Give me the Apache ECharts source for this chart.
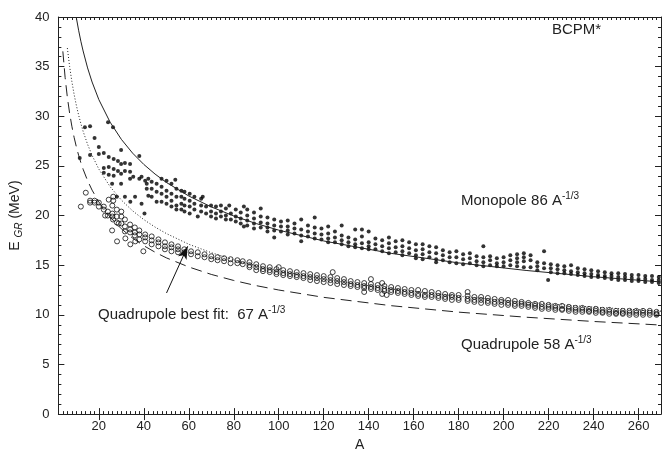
<!DOCTYPE html>
<html lang="en">
<head>
    <meta charset="UTF-8">
    <title>E_GR vs A</title>
    <script src="https://cdn.jsdelivr.net/npm/echarts/dist/echarts.min.js"></script>
    <style>
        html, body { margin: 0; padding: 0; background: #fff; }
        #main { width: 671px; height: 457px; }
    </style>
</head>
<body>
    <div id="main"></div>

    <script>
        // tick labels
        var xMajorTicks = [20, 40, 60, 80, 100, 120, 140, 160, 180, 200, 220, 240, 260];

        // monopole energies (filled dots), [A, E]
        var monopole = [
            [11.5, 25.8], [13.8, 28.9], [16.1, 29.0], [16.1, 26.1], [18.1, 27.8], [20, 26.9], [20, 26.2], [22.2, 26.3], [22.2, 24.8], [22.2, 24.3],
            [24.1, 29.4], [24.4, 25.9], [24.4, 24.9], [24.4, 24.1], [25.9, 23.2], [26.3, 28.9], [26.6, 25.7], [26.6, 24.7], [26.6, 24.0], [28, 21.9],
            [28.5, 25.5], [28.5, 24.5], [29.9, 26.6], [29.9, 25.2], [29.9, 24.2], [29.9, 23.2], [31.6, 25.3], [31.6, 24.5], [31.6, 21.9], [33.9, 25.2],
            [33.9, 24.4], [33.9, 23.7], [34, 21.4], [35.3, 23.9], [36.1, 21.9], [38, 26.0], [38, 23.7], [39, 23.9], [39, 21.2], [40.3, 20.2],
            [40.6, 23.5], [41.3, 23.2], [41.3, 22.7], [42, 23.7], [42, 22.0], [43.5, 23.4], [43.5, 22.7], [43.5, 21.9], [45.7, 23.2], [45.7, 22.4],
            [45.7, 21.4], [47.9, 23.7], [47.9, 22.9], [47.9, 22.2], [47.9, 21.4], [50.1, 23.5], [50.1, 22.5], [50.1, 21.9], [50.1, 21.2], [52.3, 23.2],
            [52.3, 22.2], [52.3, 21.5], [52.3, 20.9], [54, 23.6], [54.5, 22.7], [54.5, 21.9], [54.5, 21.0], [54.5, 20.6], [56.7, 22.5], [56.7, 21.9],
            [56.7, 21.2], [56.7, 20.6], [58.1, 22.4], [58.1, 21.7], [58.1, 21.0], [58.1, 20.4], [60.4, 22.2], [60.4, 21.5], [60.4, 20.9], [60.4, 20.2],
            [62.5, 21.9], [62.5, 21.2], [62.5, 20.6], [64, 19.9], [65.5, 21.7], [65.5, 21.0], [65.5, 20.4], [66.2, 21.9], [67.7, 20.9], [67.7, 20.2],
            [69.9, 21.0], [69.9, 20.4], [69.9, 19.9], [72.1, 20.9], [72.1, 20.2], [72.1, 19.7], [74.3, 21.0], [74.3, 20.4], [74.3, 19.9], [76.5, 20.7],
            [76.5, 20.0], [76.5, 19.6], [78, 21.0], [78.7, 20.2], [78.7, 19.6], [80.9, 20.6], [80.9, 19.9], [80.9, 19.4], [83.1, 20.3], [83.1, 19.7],
            [83.1, 19.2], [84.5, 20.9], [84.5, 18.9],
            [86, 20.6], [86, 20.0], [86, 19.5], [86, 19.0], [89, 20.3], [89, 19.7], [89, 19.2], [89, 18.7],
            [92, 20.7], [92, 19.9], [92, 19.3], [92, 18.8], [95, 19.8], [95, 19.2], [95, 18.8], [95, 18.4],
            [98, 19.6], [98, 19.0], [98, 18.5], [98, 17.8], [101, 19.4], [101, 18.9], [101, 18.4],
            [104, 19.5], [104, 18.9], [104, 18.5], [104, 18.1], [107, 19.2], [107, 18.7], [107, 18.2],
            [110, 19.6], [110, 18.6], [110, 18.0], [110, 17.4], [113, 19.0], [113, 18.4], [113, 17.9],
            [116, 19.8], [116, 18.8], [116, 18.2], [116, 17.7], [119, 18.7], [119, 18.1], [119, 17.6],
            [122, 18.9], [122, 18.2], [122, 17.7], [122, 17.3], [125, 18.4], [125, 17.8], [125, 17.3],
            [128, 19.0], [128, 18.0], [128, 17.5], [128, 17.1], [131, 17.8], [131, 17.3], [131, 16.9],
            [134, 18.6], [134, 17.6], [134, 17.1], [134, 16.8], [137, 18.6], [137, 17.9], [137, 17.2], [137, 16.7],
            [140, 18.4], [140, 17.3], [140, 16.9], [140, 16.6], [143, 17.7], [143, 17.1], [143, 16.6],
            [146, 17.5], [146, 16.9], [146, 16.4], [149, 17.8], [149, 17.2], [149, 16.7], [149, 16.2],
            [152, 17.4], [152, 16.8], [152, 16.3], [155, 17.5], [155, 16.9], [155, 16.4], [155, 16.0],
            [158, 17.3], [158, 16.7], [158, 16.2], [161, 17.1], [161, 16.5], [161, 16.0], [161, 15.7],
            [164, 17.1], [164, 16.6], [164, 16.1], [164, 15.6], [167, 16.9], [167, 16.3], [167, 15.8],
            [170, 16.8], [170, 16.2], [170, 15.6], [170, 15.3], [173, 16.5], [173, 16.0], [173, 15.5],
            [176, 16.3], [176, 15.8], [176, 15.3], [179, 16.4], [179, 15.8], [179, 15.2],
            [182, 16.1], [182, 15.6], [182, 15.1], [185, 16.2], [185, 15.7], [185, 15.2],
            [188, 15.9], [188, 15.4], [188, 15.0], [191, 16.9], [191, 15.8], [191, 15.3], [191, 14.9],
            [194, 15.9], [194, 15.5], [194, 15.0], [197, 15.7], [197, 15.2], [197, 14.9],
            [200, 15.8], [200, 15.3], [200, 14.9], [203, 16.0], [203, 15.5], [203, 15.0],
            [206, 16.1], [206, 15.7], [206, 15.3], [206, 14.9], [209, 16.2], [209, 15.8], [209, 15.4], [209, 14.8],
            [212, 16.0], [212, 15.5], [212, 14.8], [215, 15.3], [215, 14.9], [215, 14.5],
            [218, 16.4], [218, 15.2], [218, 14.7], [219.8, 13.5], [221, 15.1], [221, 14.7], [221, 14.3],
            [224, 15.0], [224, 14.6], [224, 14.2], [227, 14.9], [227, 14.5], [227, 14.2],
            [230, 15.0], [230, 14.4], [230, 14.1], [233, 14.7], [233, 14.3], [233, 14.0],
            [236, 14.6], [236, 14.2], [236, 13.9], [239, 14.5], [239, 14.1], [239, 13.8],
            [242, 14.4], [242, 14.0], [242, 13.8], [245, 14.3], [245, 13.9], [245, 13.7],
            [248, 14.2], [248, 13.9], [248, 13.6], [251, 14.2], [251, 13.8], [251, 13.5],
            [254, 14.1], [254, 13.8], [254, 13.5], [257, 14.0], [257, 13.7], [257, 13.4],
            [260, 14.0], [260, 13.6], [260, 13.4], [263, 13.9], [263, 13.6], [263, 13.3],
            [266, 13.9], [266, 13.5], [266, 13.3], [269, 13.8], [269, 13.5], [269, 13.2]
        ];

        // quadrupole energies (open circles), [A, E]
        var quadrupole = [
            [12, 20.9], [14.2, 22.3], [16.1, 21.5], [16.1, 21.3], [18.1, 21.5], [18.1, 21.3], [20, 21.3], [20, 20.9], [22.2, 20.9], [22.2, 20.6],
            [22.8, 20.0], [24, 20.4], [24, 20.0], [24.4, 21.6], [26, 21.0], [26, 20.2], [26, 19.9], [26.3, 19.6], [26.4, 21.9], [26.4, 21.5],
            [25.9, 18.5], [28, 20.6], [28, 19.9], [28, 19.3], [28.1, 17.4], [28.8, 19.2], [30, 20.4], [30, 19.9], [30, 19.2], [31.6, 19.6],
            [31.6, 18.9], [31.6, 18.4], [31.8, 17.7], [33.9, 19.1], [33.9, 18.6], [33.9, 18.3], [34, 17.1], [36, 18.8], [36, 18.3], [36, 18.0],
            [36.2, 17.4], [38, 18.5], [38, 18.1], [38, 17.6], [39.8, 16.4], [40.6, 18.1], [40.6, 17.8], [40.6, 17.4], [43.5, 17.9], [43.5, 17.5],
            [43.5, 17.1], [46.5, 17.6], [46.5, 17.3], [46.5, 16.9], [49.4, 17.3], [49.4, 16.9], [49.4, 16.6], [52.3, 17.1], [52.3, 16.8], [52.3, 16.4],
            [55.2, 16.9], [55.2, 16.6], [55.2, 16.3], [58, 16.6], [58, 16.3], [61, 16.4], [61, 16.1], [64, 16.3], [64, 15.9], [67, 16.1],
            [67, 15.8], [70, 15.9], [70, 15.6], [72.8, 15.8], [72.8, 15.5], [75.7, 15.7], [75.7, 15.4], [78.6, 15.6], [78.6, 15.2], [81.6, 15.5],
            [81.6, 15.2], [84, 15.4], [84, 15.1],
            [87, 15.3], [87, 15.0], [87, 14.8], [90, 15.1], [90, 14.8], [90, 14.5], [93, 14.9], [93, 14.6], [93, 14.4],
            [96, 14.8], [96, 14.5], [96, 14.3], [99, 14.6], [99, 14.3], [99, 14.1], [100, 14.8],
            [102, 14.5], [102, 14.2], [102, 14.0], [105, 14.4], [105, 14.1], [105, 13.9], [108, 14.3], [108, 14.0], [108, 13.8],
            [111, 14.2], [111, 13.9], [111, 13.7], [114, 14.1], [114, 13.8], [114, 13.5], [117, 14.0], [117, 13.7], [117, 13.4],
            [120, 13.9], [120, 13.6], [120, 13.3], [124, 14.3], [123, 13.8], [123, 13.5], [123, 13.2],
            [126, 13.7], [126, 13.4], [126, 13.1], [129, 13.6], [129, 13.3], [129, 13.0], [132, 13.4], [132, 13.1], [132, 12.9],
            [135, 13.3], [135, 13.0], [135, 12.8], [138, 13.2], [138, 12.9], [138, 12.7], [138, 12.3],
            [141, 13.6], [141, 13.1], [141, 12.8], [141, 12.6], [144, 13.0], [144, 12.7], [144, 12.5], [146, 13.2], [146, 12.1],
            [147, 12.9], [147, 12.6], [147, 12.4], [148, 12.0], [150, 12.8], [150, 12.5], [150, 12.3],
            [153, 12.7], [153, 12.4], [153, 12.2], [156, 12.6], [156, 12.3], [156, 12.1], [159, 12.5], [159, 12.2], [159, 12.0],
            [162, 12.5], [162, 12.1], [162, 11.9], [165, 12.4], [165, 12.0], [165, 11.8], [168, 12.3], [168, 12.0], [168, 11.8],
            [171, 12.2], [171, 11.9], [171, 11.7], [174, 12.1], [174, 11.8], [174, 11.6], [177, 12.0], [177, 11.8], [177, 11.5],
            [180, 12.0], [180, 11.7], [180, 11.5], [184, 12.3], [184, 11.9], [184, 11.6], [184, 11.4],
            [187, 11.8], [187, 11.5], [187, 11.3], [190, 11.8], [190, 11.5], [190, 11.2], [193, 11.7], [193, 11.4], [193, 11.2],
            [196, 11.6], [196, 11.3], [196, 11.1], [199, 11.5], [199, 11.3], [199, 11.0], [202, 11.5], [202, 11.2], [202, 11.0],
            [205, 11.4], [205, 11.1], [205, 10.9], [208, 11.3], [208, 11.1], [208, 10.9], [211, 11.2], [211, 11.0], [211, 10.8],
            [214, 11.1], [214, 10.9], [214, 10.7], [217, 11.1], [217, 10.8], [217, 10.6], [220, 11.0], [220, 10.8], [220, 10.6],
            [223, 10.9], [223, 10.7], [223, 10.5], [226, 10.9], [226, 10.6], [226, 10.5], [229, 10.8], [229, 10.6], [229, 10.4],
            [232, 10.7], [232, 10.5], [232, 10.3], [235, 10.7], [235, 10.5], [235, 10.3], [238, 10.6], [238, 10.4], [238, 10.3],
            [241, 10.6], [241, 10.4], [241, 10.2], [244, 10.5], [244, 10.3], [244, 10.2], [247, 10.5], [247, 10.3], [247, 10.1],
            [250, 10.4], [250, 10.2], [250, 10.1], [253, 10.4], [253, 10.2], [253, 10.1], [256, 10.4], [256, 10.2], [256, 10.0],
            [259, 10.4], [259, 10.2], [259, 10.0], [262, 10.4], [262, 10.2], [262, 10.0], [265, 10.4], [265, 10.2], [265, 10.0],
            [268, 10.3], [268, 10.1], [268, 10.0]
        ];

        // Monopole 86 A^-1/3 (solid)
        var monopoleFit = [
            [10, 39.92], [11, 38.67], [12, 37.56], [13, 36.58], [15, 34.87], [17, 33.45], [20, 31.68], [25, 29.41], [30, 27.68],
            [35, 26.29], [40, 25.15], [45, 24.18], [50, 23.34], [60, 21.97], [70, 20.87], [80, 19.96], [90, 19.19], [100, 18.53],
            [120, 17.44], [150, 16.19], [180, 15.23], [210, 14.47], [240, 13.84], [270, 13.31]
        ];
        // Quadrupole best fit 67 A^-1/3 (dotted)
        var quadBestFit = [
            [6, 36.87], [7, 35.03], [8, 33.50], [9, 32.21], [10, 31.10], [11, 30.13], [12, 29.27], [13, 28.49], [15, 27.17],
            [17, 26.06], [20, 24.68], [25, 22.91], [30, 21.56], [35, 20.48], [40, 19.59], [45, 18.84], [50, 18.19], [60, 17.11],
            [70, 16.26], [80, 15.55], [90, 14.95], [100, 14.43], [120, 13.58], [150, 12.61], [180, 11.87], [210, 11.27],
            [240, 10.78], [270, 10.37]
        ];
        // Quadrupole 58 A^-1/3 (dashed)
        var quadFit58 = [
            [4, 36.54], [5, 33.92], [6, 31.92], [7, 30.32], [8, 29.00], [9, 27.88], [10, 26.92], [11, 26.08], [12, 25.33],
            [13, 24.67], [15, 23.52], [17, 22.56], [20, 21.37], [25, 19.84], [30, 18.67], [35, 17.73], [40, 16.96], [45, 16.31],
            [50, 15.74], [60, 14.82], [70, 14.07], [80, 13.46], [90, 12.94], [100, 12.50], [120, 11.76], [150, 10.92],
            [180, 10.27], [210, 9.76], [240, 9.33], [270, 8.97]
        ];

        // arrow for the best-fit label
        var arrowTail = [50.1, 12.2];
        var arrowHead = [59.5, 16.9];

        var FONT = 'Liberation Sans, Arial, sans-serif';
        var INK = '#222';

        var myChart = echarts.init(document.getElementById('main'));

        function boxAxis(pos, extra) {
            var a = {
                type: 'value',
                position: pos,
                min: 2,
                max: 270,
                splitLine: { show: false },
                axisLine: { show: true, onZero: false, lineStyle: { color: INK, width: 1 } },
                axisLabel: { show: false },
                axisTick: { show: true, inside: true, length: 3, lineStyle: { color: INK } }
            };
            return Object.assign(a, extra || {});
        }

        var sup = { fontSize: 10, lineHeight: 10, verticalAlign: 'top', fill: INK, fontFamily: FONT };
        var txt = { fontSize: 15, lineHeight: 20, fill: INK, fontFamily: FONT };

        var option = {
            animation: false,
            backgroundColor: '#fff',
            grid: { left: 53, right: 10, top: 17, bottom: 36 },
            xAxis: [
                // minor ticks, every 2
                boxAxis('bottom', { interval: 2 }),
                // major ticks + labels
                boxAxis('bottom', {
                    name: 'A',
                    nameLocation: 'middle',
                    nameGap: 22,
                    nameTextStyle: { color: INK, fontSize: 14, fontFamily: FONT },
                    axisLine: { show: false },
                    axisTick: { show: true, inside: true, length: 6, customValues: xMajorTicks, lineStyle: { color: INK } },
                    axisLabel: { show: true, customValues: xMajorTicks, color: INK, fontSize: 13, fontFamily: FONT, margin: 6 }
                }),
                boxAxis('top', { interval: 2 }),
                boxAxis('top', {
                    axisLine: { show: false },
                    axisTick: { show: true, inside: true, length: 6, customValues: xMajorTicks, lineStyle: { color: INK } }
                })
            ],
            yAxis: [
                {
                    type: 'value',
                    position: 'left',
                    min: 0,
                    max: 40,
                    interval: 5,
                    name: '{a|E }{s|GR}{a| (MeV)}',
                    nameLocation: 'middle',
                    nameRotate: 90,
                    nameGap: 30,
                    nameTextStyle: {
                        rich: {
                            a: { fontSize: 14, lineHeight: 18, color: INK, fontFamily: FONT },
                            s: { fontSize: 10, lineHeight: 10, fontStyle: 'italic', verticalAlign: 'bottom', color: INK, fontFamily: FONT }
                        }
                    },
                    splitLine: { show: false },
                    axisLine: { show: true, lineStyle: { color: INK } },
                    axisTick: { show: true, inside: true, length: 6, lineStyle: { color: INK } },
                    minorTick: { show: true, splitNumber: 5, length: 3, lineStyle: { color: INK } },
                    axisLabel: { color: INK, fontSize: 13, fontFamily: FONT, margin: 9 }
                },
                {
                    type: 'value',
                    position: 'right',
                    min: 0,
                    max: 40,
                    interval: 5,
                    splitLine: { show: false },
                    axisLine: { show: true, lineStyle: { color: INK } },
                    axisTick: { show: true, inside: true, length: 6, lineStyle: { color: INK } },
                    minorTick: { show: true, splitNumber: 5, length: 3, lineStyle: { color: INK } },
                    axisLabel: { show: false }
                }
            ],
            series: [
                {
                    name: 'Monopole 86',
                    type: 'line',
                    data: monopoleFit,
                    showSymbol: false,
                    lineStyle: { color: INK, width: 1 },
                    silent: true
                },
                {
                    name: 'Quadrupole best fit',
                    type: 'line',
                    data: quadBestFit,
                    showSymbol: false,
                    lineStyle: { color: INK, width: 1, type: [1, 2] },
                    silent: true
                },
                {
                    name: 'Quadrupole 58',
                    type: 'line',
                    data: quadFit58,
                    showSymbol: false,
                    lineStyle: { color: INK, width: 1, type: [11, 6] },
                    silent: true,
                    markLine: {
                        silent: true,
                        symbol: ['none', 'arrow'],
                        symbolSize: [7, 13],
                        label: { show: false },
                        lineStyle: { color: '#111', width: 1, type: 'solid' },
                        data: [[{ coord: arrowTail }, { coord: arrowHead }]]
                    }
                },
                {
                    name: 'quadrupole',
                    type: 'scatter',
                    data: quadrupole,
                    symbol: 'circle',
                    symbolSize: 5,
                    itemStyle: { color: 'rgba(255,255,255,0)', borderColor: '#111', borderWidth: 1 },
                    silent: true
                },
                {
                    name: 'monopole',
                    type: 'scatter',
                    data: monopole,
                    symbol: 'circle',
                    symbolSize: 4,
                    itemStyle: { color: '#000' },
                    silent: true
                }
            ],
            graphic: [
                {
                    type: 'text', x: 552, y: 30,
                    style: { text: 'BCPM*', fill: INK, fontSize: 15, fontFamily: FONT, verticalAlign: 'middle' }
                },
                {
                    type: 'text', x: 461, y: 201,
                    style: { text: '{t|Monopole 86 A}{s|-1/3}', rich: { t: txt, s: sup }, verticalAlign: 'middle' }
                },
                {
                    type: 'text', x: 98, y: 315,
                    style: { text: '{t|Quadrupole best fit:  67 A}{s|-1/3}', rich: { t: txt, s: sup }, verticalAlign: 'middle' }
                },
                {
                    type: 'text', x: 461, y: 345,
                    style: { text: '{t|Quadrupole 58 A}{s|-1/3}', rich: { t: txt, s: sup }, verticalAlign: 'middle' }
                }
            ]
        };

        myChart.setOption(option);
    </script>
</body>
</html>
